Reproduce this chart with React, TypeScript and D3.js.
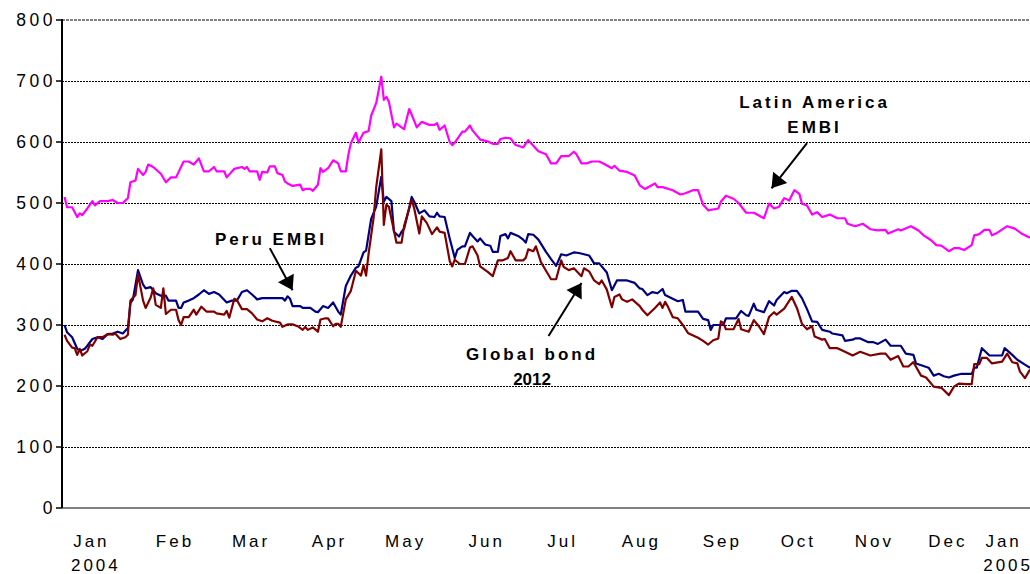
import * as d3 from 'd3';

// x values are days counted from 1 Jan 2004, y values are spreads in basis points
const START = new Date(2004, 0, 1);
const END = new Date(2005, 0, 17);

const latinAmericaEmbi: [number, number][] = [
  [1, 510], [2, 493], [4, 493], [6, 477], [7, 483], [8, 480], [10, 491], [12, 503], [13, 496], [15, 503],
  [18, 503], [20, 505], [22, 500], [24, 500], [26, 508], [27, 534], [29, 537], [30, 556], [32, 546], [33, 551],
  [34, 563], [36, 559], [39, 548], [41, 534], [43, 542], [45, 542], [48, 568], [50, 568], [52, 563], [54, 573],
  [56, 552], [58, 552], [60, 559], [61, 552], [64, 552], [65, 542], [68, 556], [71, 559], [72, 556], [73, 559],
  [74, 552], [77, 552], [78, 538], [79, 551], [81, 550], [82, 560], [84, 560], [85, 549], [87, 546], [88, 535],
  [89, 532], [91, 528], [94, 530], [95, 521], [96, 523], [98, 523], [99, 520], [101, 530], [102, 557], [103, 551],
  [105, 557], [107, 570], [109, 565], [110, 552], [112, 552], [113, 579], [114, 598], [116, 615], [117, 599], [119, 615],
  [121, 618], [122, 643], [124, 664], [126, 707], [127, 669], [128, 674], [129, 666], [131, 624], [132, 630], [134, 624],
  [135, 621], [137, 654], [138, 645], [140, 624], [142, 633], [145, 628], [147, 628], [148, 631], [149, 620], [151, 627],
  [153, 600], [154, 595], [155, 599], [158, 617], [159, 617], [161, 627], [162, 619], [165, 604], [168, 601], [170, 597],
  [172, 597], [173, 605], [175, 607], [177, 606], [179, 595], [180, 594], [182, 591], [184, 603], [186, 594], [188, 585],
  [191, 580], [193, 565], [195, 565], [197, 577], [200, 577], [202, 584], [203, 580], [205, 565], [207, 565], [209, 568],
  [212, 568], [214, 564], [217, 557], [218, 561], [220, 553], [223, 551], [225, 547], [226, 545], [228, 529], [230, 523],
  [234, 532], [235, 526], [237, 526], [241, 521], [244, 514], [246, 516], [249, 521], [251, 521], [253, 497], [255, 488],
  [259, 491], [260, 502], [262, 512], [265, 507], [267, 500], [270, 484], [273, 484], [277, 475], [279, 499], [281, 491],
  [283, 494], [285, 508], [287, 504], [289, 521], [291, 515], [292, 499], [294, 496], [296, 481], [298, 485], [300, 477],
  [303, 481], [306, 475], [309, 475], [310, 466], [313, 462], [316, 466], [319, 457], [322, 455], [325, 456], [326, 450],
  [330, 457], [331, 455], [335, 462], [338, 455], [340, 447], [343, 439], [345, 431], [347, 430], [350, 421], [352, 426],
  [354, 426], [356, 423], [359, 431], [360, 447], [362, 449], [364, 456], [366, 456], [367, 447], [369, 451], [373, 462],
  [376, 458], [379, 449], [381, 445], [382, 443],
];

const peruEmbi: [number, number][] = [
  [1, 300], [2, 288], [4, 280], [6, 261], [7, 257], [9, 261], [10, 266], [12, 277], [14, 280], [16, 277],
  [18, 285], [20, 286], [22, 289], [24, 286], [26, 295], [27, 336], [28, 342], [30, 390], [32, 366], [33, 360],
  [35, 362], [37, 352], [39, 348], [41, 348], [42, 340], [45, 340], [46, 328], [47, 328], [48, 337], [50, 340],
  [52, 344], [54, 350], [56, 357], [58, 351], [60, 354], [62, 350], [65, 337], [67, 340], [69, 340], [71, 354],
  [73, 357], [75, 350], [77, 342], [79, 344], [87, 344], [88, 340], [89, 347], [90, 343], [91, 331], [94, 331],
  [95, 328], [98, 328], [100, 322], [101, 321], [103, 331], [105, 328], [107, 337], [109, 322], [110, 317], [112, 364],
  [114, 381], [116, 394], [117, 396], [119, 419], [120, 422], [122, 474], [124, 494], [126, 543], [127, 502], [128, 510],
  [130, 503], [131, 453], [133, 445], [134, 453], [135, 458], [137, 492], [138, 510], [139, 502], [141, 483], [143, 488],
  [145, 478], [147, 477], [148, 484], [149, 478], [151, 477], [153, 442], [155, 410], [156, 423], [158, 429], [159, 429],
  [161, 451], [162, 446], [164, 437], [165, 442], [167, 432], [169, 430], [170, 420], [172, 420], [173, 446], [175, 449],
  [176, 442], [177, 451], [180, 446], [182, 440], [183, 435], [184, 449], [186, 448], [188, 440], [191, 420], [193, 408],
  [195, 397], [197, 416], [199, 414], [202, 419], [204, 418], [206, 416], [208, 414], [210, 401], [212, 401], [215, 386],
  [217, 357], [219, 373], [223, 373], [226, 369], [228, 360], [229, 359], [231, 349], [233, 354], [235, 352], [237, 359],
  [238, 349], [241, 343], [243, 339], [245, 341], [246, 322], [251, 322], [253, 310], [255, 308], [256, 292], [257, 300],
  [261, 300], [262, 311], [266, 311], [268, 323], [270, 316], [271, 315], [273, 335], [274, 325], [277, 321], [279, 339],
  [281, 332], [282, 341], [285, 354], [286, 352], [288, 356], [290, 356], [292, 344], [294, 326], [296, 306], [298, 305],
  [300, 292], [303, 289], [304, 286], [308, 283], [309, 274], [312, 276], [313, 278], [315, 278], [318, 272], [320, 272],
  [322, 269], [325, 276], [327, 266], [331, 266], [333, 253], [336, 251], [337, 237], [342, 230], [344, 217], [346, 220],
  [348, 216], [350, 214], [352, 217], [355, 220], [359, 220], [360, 230], [361, 230], [363, 262], [366, 250], [371, 250],
  [372, 262], [375, 251], [377, 243], [380, 235], [382, 230],
];

const globalBond2012: [number, number][] = [
  [1, 284], [2, 274], [4, 263], [5, 262], [6, 251], [7, 261], [8, 250], [10, 257], [11, 268], [12, 266],
  [14, 280], [16, 280], [18, 285], [20, 284], [21, 286], [23, 277], [25, 280], [26, 284], [27, 340], [29, 349],
  [30, 383], [32, 340], [33, 328], [35, 345], [36, 360], [37, 333], [39, 328], [40, 360], [41, 318], [43, 325],
  [45, 325], [46, 308], [47, 300], [48, 313], [50, 313], [52, 325], [53, 317], [55, 330], [57, 322], [60, 322],
  [61, 319], [64, 317], [65, 323], [66, 312], [68, 343], [69, 341], [71, 326], [73, 326], [75, 319], [77, 309],
  [79, 306], [81, 311], [83, 307], [86, 304], [87, 297], [89, 301], [91, 301], [93, 298], [95, 292], [96, 297],
  [97, 292], [99, 296], [101, 289], [102, 309], [104, 311], [105, 311], [107, 298], [108, 302], [109, 302], [110, 297],
  [112, 342], [114, 356], [116, 389], [118, 381], [119, 398], [120, 381], [121, 417], [123, 477], [124, 526], [126, 588],
  [127, 464], [128, 497], [129, 494], [132, 435], [134, 435], [135, 462], [138, 505], [139, 491], [141, 450], [142, 478],
  [144, 467], [146, 449], [148, 460], [149, 453], [151, 451], [153, 405], [154, 396], [155, 407], [157, 400], [159, 400],
  [161, 427], [162, 429], [164, 414], [165, 396], [168, 387], [170, 380], [172, 406], [174, 406], [176, 410], [177, 421],
  [179, 406], [182, 406], [183, 410], [184, 424], [186, 421], [187, 429], [189, 403], [191, 389], [193, 375], [195, 375],
  [197, 406], [198, 395], [200, 390], [202, 393], [205, 380], [206, 393], [208, 388], [210, 373], [212, 367], [213, 373],
  [215, 358], [217, 329], [218, 346], [220, 350], [221, 342], [223, 338], [225, 342], [228, 331], [229, 325], [231, 316],
  [234, 328], [236, 337], [237, 328], [238, 338], [239, 331], [241, 313], [243, 311], [245, 300], [247, 287], [248, 285],
  [251, 279], [253, 274], [255, 268], [257, 275], [259, 278], [260, 306], [261, 303], [262, 293], [265, 293], [267, 310],
  [268, 293], [271, 289], [273, 308], [275, 298], [277, 285], [279, 313], [281, 321], [282, 317], [285, 327], [288, 346],
  [290, 328], [292, 302], [294, 293], [296, 298], [297, 281], [300, 276], [301, 277], [303, 262], [306, 262], [309, 256],
  [312, 250], [315, 256], [319, 250], [323, 253], [325, 253], [327, 243], [330, 249], [332, 232], [334, 232], [336, 239],
  [339, 217], [341, 214], [344, 199], [347, 197], [350, 185], [352, 199], [354, 204], [357, 203], [359, 203], [360, 236],
  [362, 236], [363, 246], [365, 246], [367, 237], [371, 240], [373, 253], [375, 239], [377, 237], [378, 224], [380, 213],
  [382, 227],
];

const yTicks = [0, 100, 200, 300, 400, 500, 600, 700, 800];

// label position (days from 1 Jan 2004), month, year
const monthLabelDays = [11, 44, 74, 105, 135, 167, 197, 228, 260, 290, 320, 349, 371];
const monthLabelNames = ['Jan', 'Feb', 'Mar', 'Apr', 'May', 'Jun', 'Jul', 'Aug', 'Sep', 'Oct', 'Nov', 'Dec', 'Jan'];
const monthLabelYears = ['2004', '', '', '', '', '', '', '', '', '', '', '', '2005'];

// annotations in data units: label lines, label anchor, arrow start, arrow tip
const annotations = [
  { lines: ['Peru EMBI'], at: [82.5, 431], from: [82, 426], to: [91, 357] },
  { lines: ['Latin America', 'EMBI'], at: [297, 656], from: [294, 598], to: [280, 524] },
  { lines: ['Global bond', '2012'], at: [185.5, 243], from: [192, 282], to: [205, 369] },
];

const W = 1030;
const H = 574;
const FONT = '"Liberation Sans", Arial, Helvetica, sans-serif';

export default function App() {
  const x = d3.scaleTime().domain([START, END]).range([62, 1030]);
  const y = d3.scaleLinear().domain([0, 800]).range([508, 20]);
  const dayX = (d: number) => x(d3.timeDay.offset(START, Math.floor(d)).getTime() + (d % 1) * 864e5);

  const line = d3.line<[number, number]>()
    .x(d => dayX(d[0]))
    .y(d => y(d[1]));

  const series = [
    { data: latinAmericaEmbi, color: '#FF00FF' },
    { data: peruEmbi, color: '#000080' },
    { data: globalBond2012, color: '#800000' },
  ];

  const arrowHead = (x1: number, y1: number, x2: number, y2: number) => {
    const dx = x2 - x1, dy = y2 - y1;
    const len = Math.hypot(dx, dy);
    const ux = dx / len, uy = dy / len;
    const hl = 14, hw = 9;
    const bx = x2 - ux * hl, by = y2 - uy * hl;
    return `M${x2},${y2}L${bx - uy * hw},${by + ux * hw}L${bx + uy * hw},${by - ux * hw}Z`;
  };

  return (
    <svg width={W} height={H} style={{ position: 'absolute', left: 0, top: 0, background: '#fff' }} fontFamily={FONT}>
      {/* grid */}
      {yTicks.filter(t => t > 0 && t < 800).map(t => (
        <line key={t} x1={62} x2={W} y1={Math.round(y(t)) + 0.5} y2={Math.round(y(t)) + 0.5}
          stroke="#000" strokeWidth={1} strokeDasharray="2,1" />
      ))}
      <line x1={62} x2={W} y1={y(800)} y2={y(800)} stroke="#808080" strokeWidth={2} strokeDasharray="3,1" />
      <line x1={62} x2={W} y1={y(0)} y2={y(0)} stroke="#808080" strokeWidth={2} />

      {/* series */}
      {series.map((s, i) => (
        <path key={i} d={line(s.data) ?? ''} fill="none" stroke={s.color} strokeWidth={2.2} strokeLinejoin="round" />
      ))}

      {/* y axis */}
      <line x1={62} x2={62} y1={y(800) - 1} y2={y(0)} stroke="#000" strokeWidth={2} />
      {yTicks.map(t => (
        <g key={t}>
          <line x1={56} x2={62} y1={y(t)} y2={y(t)} stroke="#000" strokeWidth={1.5} />
          <text x={56} y={y(t) + 6} textAnchor="end" fontSize={17.5} letterSpacing={3.5} fill="#000">{t}</text>
        </g>
      ))}

      {/* month labels */}
      {monthLabelDays.map((d, i) => (
        <text key={i} x={dayX(d) + 1.5} y={547} textAnchor="middle" fontSize={17} letterSpacing={3} fill="#000">
          <tspan x={dayX(d) + 1.5}>{monthLabelNames[i]}</tspan>
          {monthLabelYears[i] && <tspan x={dayX(d) + 6} y={571}>{monthLabelYears[i]}</tspan>}
        </text>
      ))}

      {/* annotations */}
      {annotations.map((a, i) => {
        const x1 = dayX(a.from[0]), y1 = y(a.from[1]);
        const x2 = dayX(a.to[0]), y2 = y(a.to[1]);
        return (
          <g key={i}>
            <line x1={x1} y1={y1} x2={x2} y2={y2} stroke="#000" strokeWidth={2} />
            <path d={arrowHead(x1, y1, x2, y2)} fill="#000" />
            <text textAnchor="middle" fontSize={17} fontWeight="bold" fill="#000">
              {a.lines.map((l, j) => (
                <tspan key={j} x={dayX(a.at[0])} y={y(a.at[1]) + j * 25} letterSpacing={/^\d+$/.test(l) ? 0 : 3}>{l}</tspan>
              ))}
            </text>
          </g>
        );
      })}
    </svg>
  );
}
